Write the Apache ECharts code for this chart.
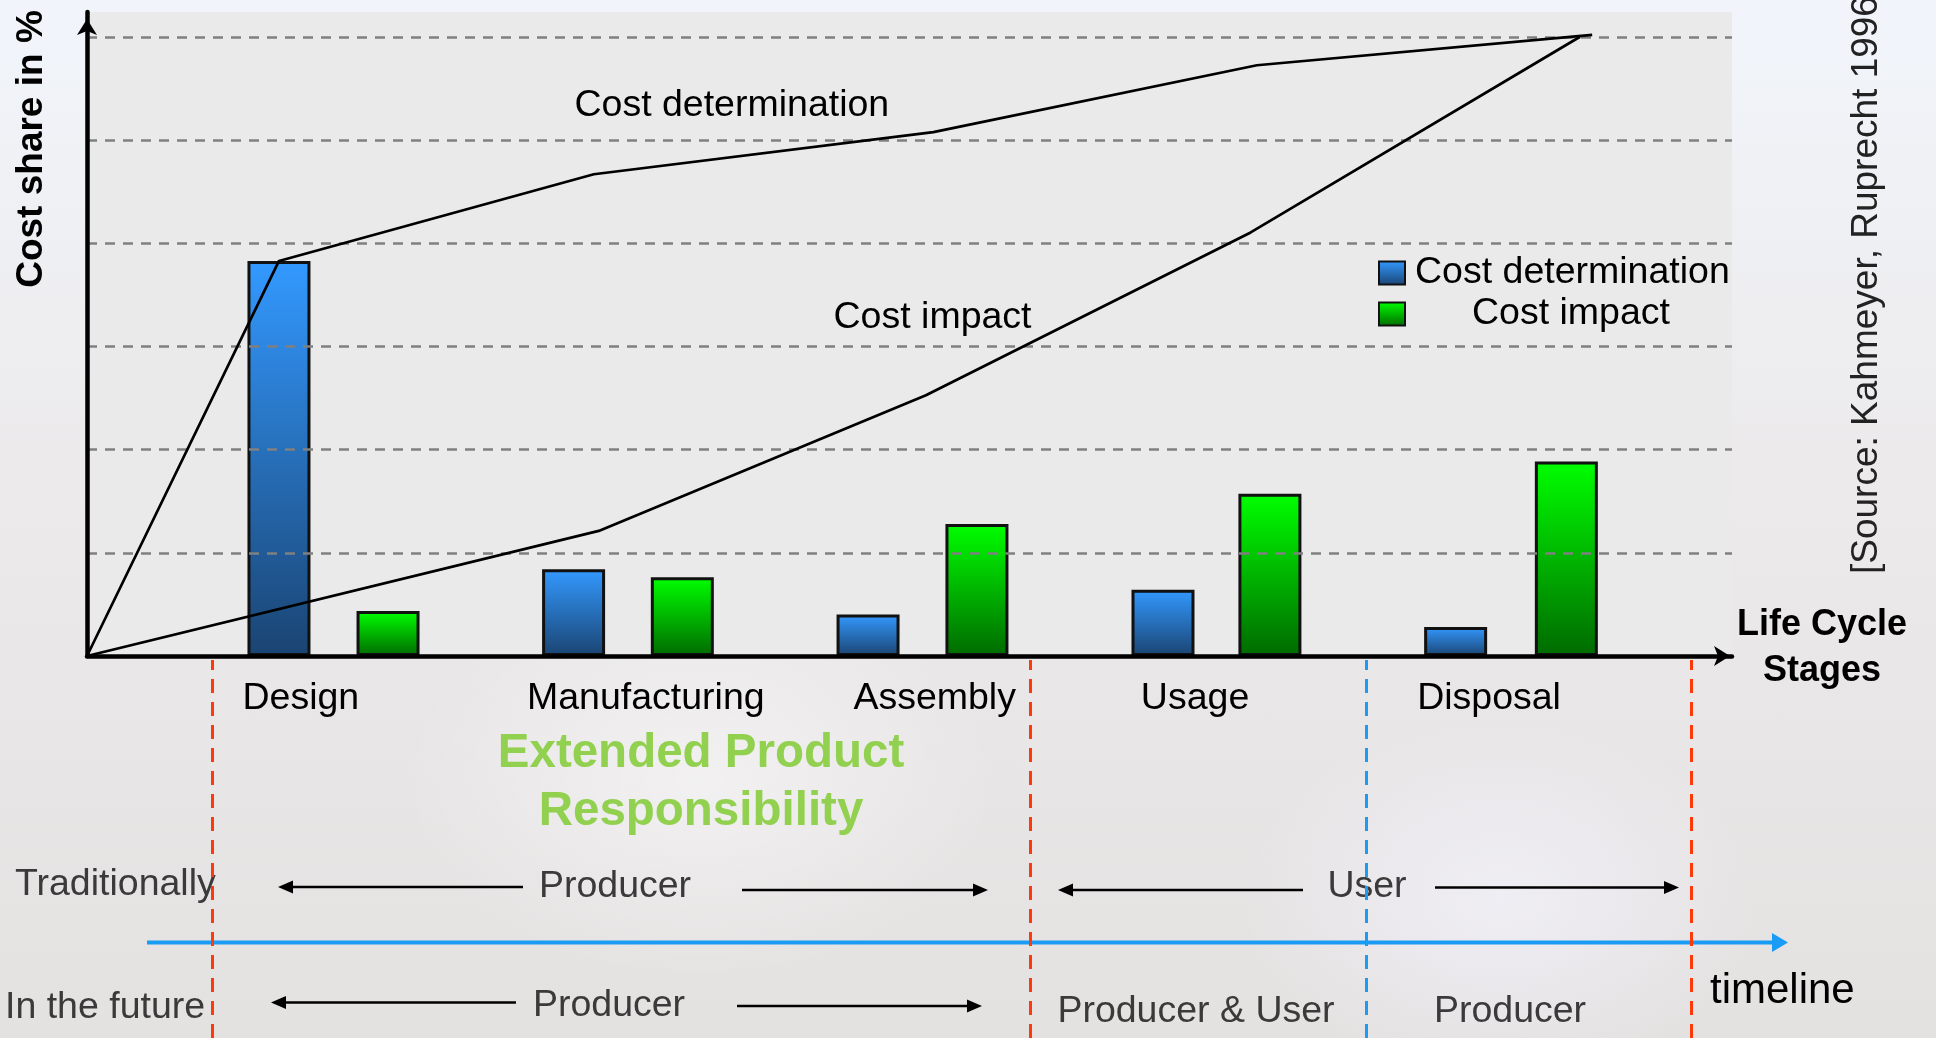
<!DOCTYPE html>
<html>
<head>
<meta charset="utf-8">
<title>Cost determination and cost impact over the life cycle</title>
<script src="https://cdn.jsdelivr.net/npm/echarts@6/dist/echarts.min.js"></script>
<style>
  html, body { margin: 0; padding: 0; overflow: hidden; }
  body {
    background:
      radial-gradient(ellipse 300px 200px at 700px 780px, rgba(255,255,255,0.45), rgba(255,255,255,0)),
      radial-gradient(ellipse 260px 180px at 1500px 900px, rgba(245,245,255,0.6), rgba(255,255,255,0)),
      linear-gradient(to bottom, #f1f5fb 0%, #eceaeb 45%, #e4e1e1 100%);
  }
  #chart { width: 1936px; height: 1038px; }
</style>
</head>
<body>
<div id="chart"></div>
<script>
// x = position on the timeline (0..100), y = cost share in %
const stageNames = ['Design', 'Manufacturing', 'Assembly', 'Usage', 'Disposal'];
const stageLabelPos = [13.0, 33.97, 51.53, 67.36, 85.23];

const determinationBarX = [11.67, 29.58, 47.48, 65.41, 83.2];
const determinationBarY = [63.8, 14.0, 6.7, 10.7, 4.7];
const impactBarX = [18.3, 36.19, 54.1, 71.91, 89.93];
const impactBarY = [7.25, 12.7, 21.3, 26.2, 31.4];

const determinationCurveX = [0, 11.67, 30.81, 51.45, 71.12, 91.5];
const determinationCurveY = [0, 63.8, 77.8, 84.6, 95.4, 100.3];
const impactCurveX = [0, 31.11, 51.0, 70.74, 90.76];
const impactCurveY = [0, 20.2, 42.1, 68.4, 100];

// where the curve names sit
const determinationLabelAt = [39.2, 88.8];
const impactLabelAt = [51.4, 54.7];

// dashed separators below the axis
const phaseBoundaries = [7.62, 57.33, 97.55];
const ownerBoundaries = [77.79];

const zip = (xs, ys) => xs.map((x, i) => [x, ys[i]]);
const FONT = 'Liberation Sans, Arial, sans-serif';
const FS = 37.5;

function grad(top, bottom) {
  return new echarts.graphic.LinearGradient(0, 0, 0, 1, [
    { offset: 0, color: top },
    { offset: 1, color: bottom }
  ]);
}

function arrow(x1, x2, y) {
  const dir = x2 > x1 ? 1 : -1;
  return [
    { type: 'line', shape: { x1: x1, y1: y, x2: x2 - dir * 10, y2: y }, style: { stroke: '#000', lineWidth: 2.5 } },
    { type: 'polygon', shape: { points: [[x2, y], [x2 - dir * 15, y - 6.5], [x2 - dir * 15, y + 6.5]] }, style: { fill: '#000' } }
  ];
}

function text(str, x, y, opts) {
  return {
    type: 'text', x: x, y: y, rotation: (opts && opts.rotation) || 0,
    style: Object.assign({
      text: str, fontFamily: FONT, fontSize: FS, fill: '#3a3a3a',
      align: 'center', verticalAlign: 'middle'
    }, opts && opts.style)
  };
}

const chart = echarts.init(document.getElementById('chart'), null, { renderer: 'canvas' });

const option = {
  animation: false,
  backgroundColor: 'transparent',
  grid: [
    { left: 87, top: 12, right: 204, bottom: 382, show: true, backgroundColor: '#eaeaea', borderWidth: 0 },
    { left: 87, top: 660, right: 204, bottom: 0 }
  ],
  xAxis: [
    {
      type: 'value', min: 0, max: 100, z: 5,
      axisLine: { show: true, lineStyle: { color: '#000', width: 4.5 }, symbol: ['none', 'arrow'], symbolSize: [15, 16], symbolOffset: [0, -2] },
      axisTick: { show: false },
      splitLine: { show: false },
      axisLabel: {
        customValues: stageLabelPos,
        formatter: v => stageNames[stageLabelPos.indexOf(v)] || '',
        margin: 24, fontSize: FS, color: '#000', fontFamily: FONT
      }
    },
    { type: 'value', min: 0, max: 100, gridIndex: 1, show: false }
  ],
  yAxis: [
    {
      type: 'value', min: 0, max: 104, interval: 100 / 6, z: 3,
      axisLine: { show: true, lineStyle: { color: '#000', width: 4.5 }, symbol: ['none', 'arrow'], symbolSize: [15, 16], symbolOffset: [0, -7] },
      axisTick: { show: false },
      axisLabel: { show: false },
      splitLine: { show: true, showMinLine: false, showMaxLine: false, lineStyle: { color: '#808080', width: 2.7, type: [10, 8] } }
    },
    { type: 'value', min: 0, max: 1, gridIndex: 1, show: false }
  ],
  legend: {
    orient: 'vertical', left: 1373, top: 249,
    itemWidth: 26, itemHeight: 23, itemGap: 3, icon: 'rect',
    textStyle: { fontSize: FS, color: '#000', fontFamily: FONT, padding: [0, 0, 0, 5] },
    data: [
      { name: 'Cost determination' },
      { name: 'Cost impact', textStyle: { padding: [0, 0, 0, 62] } }
    ]
  },
  series: [
    {
      name: 'Cost determination', type: 'bar', z: 2,
      barWidth: 63, barGap: '-100%',
      itemStyle: { color: grad('#3399ff', '#1a4472'), borderColor: '#111', borderWidth: 3 },
      data: zip(determinationBarX, determinationBarY)
    },
    {
      name: 'Cost impact', type: 'bar', z: 2,
      barWidth: 63, barGap: '-100%',
      itemStyle: { color: grad('#00ff00', '#006a00'), borderColor: '#111', borderWidth: 3 },
      data: zip(impactBarX, impactBarY)
    },
    {
      name: 'Cost determination curve', type: 'line', z: 4, symbol: 'none',
      lineStyle: { color: '#000', width: 2.7 },
      data: zip(determinationCurveX, determinationCurveY),
      markPoint: {
        symbol: 'rect', symbolSize: 1, itemStyle: { color: 'rgba(0,0,0,0)' },
        label: { show: true, position: 'inside', fontSize: FS, color: '#000', fontFamily: FONT, formatter: 'Cost determination' },
        data: [{ coord: determinationLabelAt }]
      }
    },
    {
      name: 'Cost impact curve', type: 'line', z: 4, symbol: 'none',
      lineStyle: { color: '#000', width: 2.7 },
      data: zip(impactCurveX, impactCurveY),
      markPoint: {
        symbol: 'rect', symbolSize: 1, itemStyle: { color: 'rgba(0,0,0,0)' },
        label: { show: true, position: 'inside', fontSize: FS, color: '#000', fontFamily: FONT, formatter: 'Cost impact' },
        data: [{ coord: impactLabelAt }]
      }
    },
    {
      name: 'boundaries', type: 'line', xAxisIndex: 1, yAxisIndex: 1, data: [],
      markLine: {
        silent: true, symbol: ['none', 'none'], label: { show: false },
        lineStyle: { width: 3, type: [14, 9] },
        data: phaseBoundaries.map(x => ({ xAxis: x, lineStyle: { color: '#ff3a0a' } }))
          .concat(ownerBoundaries.map(x => ({ xAxis: x, lineStyle: { color: '#1a9cf5' } })))
      }
    }
  ],
  graphic: [
    text('Cost share in %', 32, 149, { rotation: Math.PI / 2, style: { fontWeight: 'bold', fill: '#000', fontSize: 37 } }),
    text('[Source: Kahmeyer, Ruprecht 1996]', 1867, 574, { rotation: Math.PI / 2, style: { align: 'left', fill: '#222', fontSize: 37 } }),
    text('Life Cycle\nStages', 1822, 648, { style: { fontWeight: 'bold', fill: '#000', fontSize: 36, lineHeight: 46 } }),
    text('Extended Product\nResponsibility', 701, 783, { style: { fontWeight: 'bold', fill: '#92d050', fontSize: 47.5, lineHeight: 58 } }),
    text('Traditionally', 15, 884.5, { style: { align: 'left' } }),
    text('In the future', 5, 1008, { style: { align: 'left' } }),
    text('Producer', 615, 886.5),
    text('User', 1367, 886.5),
    text('Producer', 609, 1006),
    text('Producer & User', 1196, 1012),
    text('Producer', 1510, 1012),
    text('timeline', 1710, 991, { style: { align: 'left', fill: '#000', fontSize: 42 } }),
    ...arrow(523, 278, 887),
    ...arrow(742, 988, 890),
    ...arrow(1303, 1058, 890),
    ...arrow(1435, 1679, 887.5),
    ...arrow(516, 271, 1002.5),
    ...arrow(737, 982, 1006),
    { type: 'line', shape: { x1: 147, y1: 942.5, x2: 1775, y2: 942.5 }, style: { stroke: '#1a9cf5', lineWidth: 4 } },
    { type: 'polygon', shape: { points: [[1788, 942.5], [1772, 933], [1772, 952]] }, style: { fill: '#1a9cf5' } }
  ]
};

chart.setOption(option);
</script>
</body>
</html>
